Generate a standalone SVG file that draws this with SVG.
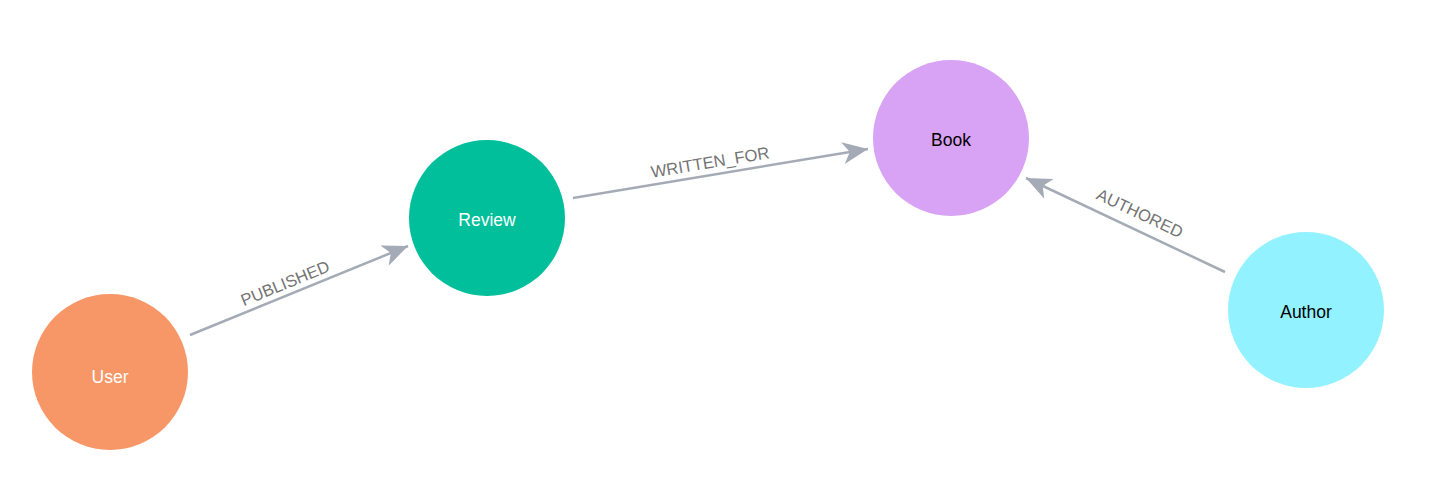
<svg xmlns="http://www.w3.org/2000/svg" width="1454" height="498" viewBox="0 0 1454 498">
<style>
.edge{stroke:#a5abb6;stroke-width:2.5;fill:none}
.elabel{font-family:"Liberation Sans",Arial,sans-serif;font-size:16.6px;fill:#747474;text-anchor:middle}
.nlabel{font-family:"Liberation Sans",Arial,sans-serif;font-size:17.5px;text-anchor:middle}
</style>
<defs>
<marker id="arrow" markerUnits="userSpaceOnUse" markerWidth="30" markerHeight="30" viewBox="-24 -12 26 24" refX="0" refY="0" orient="auto">
<path d="M0,0 L-22,-9.5 L-16,0 L-22,9.5 Z" fill="#a5abb6"/>
</marker>
</defs>
<rect width="1454" height="498" fill="#ffffff"/>
<g id="connectors">
<g id="e-published">
<line class="edge" x1="190" y1="335" x2="408" y2="246" marker-end="url(#arrow)"/>
<text class="elabel" transform="translate(285,283) rotate(-22.2)" y="6">PUBLISHED</text>
</g>
<g id="e-written-for">
<line class="edge" x1="573" y1="198" x2="868" y2="149" marker-end="url(#arrow)"/>
<text class="elabel" transform="translate(710,162) rotate(-9.5)" y="6">WRITTEN_FOR</text>
</g>
<g id="e-authored">
<line class="edge" x1="1225" y1="272" x2="1026" y2="178" marker-end="url(#arrow)"/>
<text class="elabel" transform="translate(1140,213) rotate(25.3)" y="6">AUTHORED</text>
</g>
</g>
<g id="node-user">
<circle cx="110" cy="372" r="78" fill="#f79767"/>
<text class="nlabel" x="110" y="383" fill="#ffffff">User</text>
</g>
<g id="node-review">
<circle cx="487" cy="218" r="78" fill="#00bf9a"/>
<text class="nlabel" x="487" y="226" fill="#ffffff">Review</text>
</g>
<g id="node-book">
<circle cx="951" cy="138" r="78" fill="#d8a2f5"/>
<text class="nlabel" x="951" y="146" fill="#000000">Book</text>
</g>
<g id="node-author">
<circle cx="1306" cy="310" r="78" fill="#92f2ff"/>
<text class="nlabel" x="1306" y="318" fill="#000000">Author</text>
</g>
</svg>
